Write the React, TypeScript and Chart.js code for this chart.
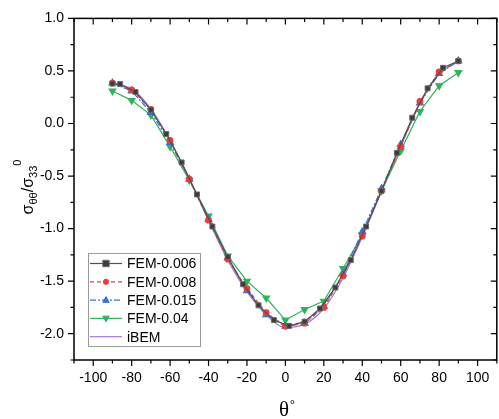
import React, { useEffect, useRef } from 'react';
import { Chart, registerables } from 'chart.js';
Chart.register(...registerables);

// ---- data ----
const thetaFEM006 = [-90, -86, -78, -70, -62, -54, -46, -38, -30, -22, -14, -6, 2, 10, 18, 26, 34, 42, 50, 58, 66, 74, 82, 90];
const fem006 = [0.38, 0.375, 0.30, 0.13, -0.10, -0.37, -0.675, -0.98, -1.27, -1.53, -1.73, -1.87, -1.925, -1.885, -1.76, -1.56, -1.30, -0.98, -0.64, -0.28, 0.055, 0.335, 0.53, 0.595];

const theta10 = [-90, -80, -70, -60, -50, -40, -30, -20, -10, 0, 10, 20, 30, 40, 50, 60, 70, 80, 90];
const fem008 = [0.385, 0.32, 0.135, -0.16, -0.53, -0.92, -1.29, -1.57, -1.80, -1.93, -1.90, -1.75, -1.45, -1.07, -0.64, -0.22, 0.21, 0.49, 0.595];
const fem015 = [0.385, 0.31, 0.105, -0.18, -0.53, -0.91, -1.28, -1.59, -1.82, -1.93, -1.90, -1.74, -1.43, -1.03, -0.62, -0.20, 0.195, 0.475, 0.595];
const fem04 = [0.31, 0.22, 0.08, -0.22, -0.54, -0.88, -1.26, -1.50, -1.66, -1.87, -1.77, -1.69, -1.38, -1.06, -0.64, -0.26, 0.115, 0.36, 0.485];
const ibem = [0.38, 0.33, 0.14, -0.16, -0.53, -0.92, -1.30, -1.60, -1.82, -1.94, -1.91, -1.76, -1.47, -1.08, -0.65, -0.22, 0.19, 0.47, 0.59];

const seriesNames = ['FEM-0.006', 'FEM-0.008', 'FEM-0.015', 'FEM-0.04', 'iBEM'];
const xTickValues = [-100, -80, -60, -40, -20, 0, 20, 40, 60, 80, 100];
const xMinorValues = [-110, -90, -70, -50, -30, -10, 10, 30, 50, 70, 90, 110];
const yTickValues = [-2.0, -1.5, -1.0, -0.5, 0.0, 0.5, 1.0];
const yMinorValues = [-2.25, -1.75, -1.25, -0.75, -0.25, 0.25, 0.75];

const COLORS = {
  grey: '#505050',
  red: '#ee3b3b',
  blue: '#3b6fd4',
  green: '#2eb35a',
  purple: '#a379d8',
};

const pts = (xs: number[], ys: number[]) => xs.map((x, i) => ({ x, y: ys[i] }));

function drawMarker(ctx: CanvasRenderingContext2D, style: string, x: number, y: number, r: number, fill: string, stroke: string) {
  ctx.save();
  ctx.fillStyle = fill;
  ctx.strokeStyle = stroke;
  ctx.lineWidth = 1;
  ctx.setLineDash([]);
  ctx.beginPath();
  if (style === 'rect') {
    ctx.rect(x - r, y - r, 2 * r, 2 * r);
  } else if (style === 'circle') {
    ctx.arc(x, y, r, 0, Math.PI * 2);
  } else if (style === 'tri') {
    ctx.moveTo(x, y - r * 1.1);
    ctx.lineTo(x + r, y + r * 0.7);
    ctx.lineTo(x - r, y + r * 0.7);
    ctx.closePath();
  } else if (style === 'tridown') {
    ctx.moveTo(x, y + r * 1.1);
    ctx.lineTo(x + r, y - r * 0.7);
    ctx.lineTo(x - r, y - r * 0.7);
    ctx.closePath();
  }
  ctx.fill();
  ctx.stroke();
  ctx.restore();
}

const framePlugin = {
  id: 'frameAndDecor',
  afterDraw(chart: any) {
    const { ctx, chartArea } = chart;
    const xs = chart.scales.x;
    const ys = chart.scales.y;
    const { left, right, top, bottom } = chartArea;
    ctx.save();
    ctx.strokeStyle = '#000';
    ctx.lineWidth = 1.5;
    ctx.setLineDash([]);
    ctx.strokeRect(left, top, right - left, bottom - top);
    ctx.lineWidth = 1.2;
    ctx.beginPath();
    for (const v of xTickValues) {
      const p = xs.getPixelForValue(v);
      ctx.moveTo(p, bottom); ctx.lineTo(p, bottom + 6);
      ctx.moveTo(p, top); ctx.lineTo(p, top + 6);
    }
    for (const v of xMinorValues) {
      const p = xs.getPixelForValue(v);
      ctx.moveTo(p, bottom); ctx.lineTo(p, bottom + 3.5);
      ctx.moveTo(p, top); ctx.lineTo(p, top + 3.5);
    }
    for (const v of yTickValues) {
      const p = ys.getPixelForValue(v);
      ctx.moveTo(left, p); ctx.lineTo(left - 6, p);
      ctx.moveTo(right, p); ctx.lineTo(right - 6, p);
    }
    for (const v of yMinorValues) {
      const p = ys.getPixelForValue(v);
      ctx.moveTo(left, p); ctx.lineTo(left - 3.5, p);
      ctx.moveTo(right, p); ctx.lineTo(right - 3.5, p);
    }
    ctx.stroke();

    // x axis title
    ctx.fillStyle = '#000';
    ctx.textBaseline = 'alphabetic';
    ctx.textAlign = 'center';
    ctx.font = '21px "Liberation Serif", "Times New Roman", serif';
    ctx.fillText('θ', 284, 416);
    ctx.textAlign = 'left';
    ctx.font = '12px "Liberation Serif", "Times New Roman", serif';
    ctx.fillText('°', 290, 408);

    // y axis title (rotated)
    ctx.save();
    ctx.translate(33, 187);
    ctx.rotate(-Math.PI / 2);
    const runs = [
      { t: 'σ', size: 16, dy: 0 },
      { t: 'θθ', size: 11, dy: 4 },
      { t: '/σ', size: 16, dy: 0 },
      { t: '33', size: 11, dy: 4 },
      { t: '0', size: 11, dy: -12 },
    ];
    let total = 0;
    const widths = runs.map((r) => {
      ctx.font = `${r.size}px "Liberation Sans", Arial, sans-serif`;
      const w = ctx.measureText(r.t).width;
      total += w;
      return w;
    });
    let cx = -total / 2;
    runs.forEach((r, i) => {
      ctx.font = `${r.size}px "Liberation Sans", Arial, sans-serif`;
      ctx.fillText(r.t, cx, r.dy);
      cx += widths[i];
    });
    ctx.restore();

    // legend
    const lx = 88, ly = 253, lw = 112, lh = 93;
    ctx.fillStyle = '#fff';
    ctx.fillRect(lx, ly, lw, lh);
    ctx.strokeStyle = '#9a9a9a';
    ctx.lineWidth = 1;
    ctx.strokeRect(lx + 0.5, ly + 0.5, lw, lh);
    const rows = [
      { c: COLORS.grey, dash: [] as number[], m: 'rect', fill: '#3c3c3c', stroke: '#6a6a6a', r: 3.2 },
      { c: COLORS.red, dash: [4, 3], m: 'circle', fill: COLORS.red, stroke: COLORS.red, r: 2.6 },
      { c: COLORS.blue, dash: [6, 2, 2, 2], m: 'tri', fill: COLORS.blue, stroke: COLORS.blue, r: 3.2 },
      { c: COLORS.green, dash: [] as number[], m: 'tridown', fill: COLORS.green, stroke: COLORS.green, r: 3.2 },
      { c: COLORS.purple, dash: [] as number[], m: '', fill: '', stroke: '', r: 0 },
    ];
    rows.forEach((row, i) => {
      const y = 263.5 + i * 18.3;
      ctx.save();
      ctx.strokeStyle = row.c;
      ctx.lineWidth = 1.2;
      ctx.setLineDash(row.dash);
      ctx.beginPath();
      ctx.moveTo(90, y);
      ctx.lineTo(122, y);
      ctx.stroke();
      ctx.restore();
      if (row.m) drawMarker(ctx, row.m, 106, y, row.r, row.fill, row.stroke);
      ctx.fillStyle = '#000';
      ctx.textAlign = 'left';
      ctx.textBaseline = 'middle';
      ctx.font = '14px "Liberation Sans", Arial, sans-serif';
      ctx.fillText(seriesNames[i], 127, y + 1);
    });
    ctx.restore();
  },
};

export default function App() {
  const ref = useRef<HTMLCanvasElement>(null);
  useEffect(() => {
    document.body.style.margin = '0';
    document.body.style.overflow = 'hidden';
    const canvas = ref.current!;
    const tickFont = { family: '"Liberation Sans", Arial, sans-serif', size: 14 };
    const chart = new Chart(canvas, {
      type: 'line',
      data: {
        datasets: [
          {
            label: seriesNames[0],
            data: pts(thetaFEM006, fem006),
            borderColor: COLORS.grey,
            borderWidth: 1.2,
            pointStyle: 'rect',
            pointRadius: 3.5,
            pointBackgroundColor: '#3c3c3c',
            pointBorderColor: '#6a6a6a',
            pointBorderWidth: 1,
            fill: false,
          },
          {
            label: seriesNames[1],
            data: pts(theta10, fem008),
            borderColor: COLORS.red,
            borderWidth: 1.2,
            borderDash: [4, 3],
            pointStyle: 'circle',
            pointRadius: 2.8,
            pointBackgroundColor: COLORS.red,
            pointBorderColor: COLORS.red,
            fill: false,
          },
          {
            label: seriesNames[2],
            data: pts(theta10, fem015),
            borderColor: COLORS.blue,
            borderWidth: 1.2,
            borderDash: [6, 2, 2, 2],
            pointStyle: 'triangle',
            pointRadius: 3.8,
            pointBackgroundColor: COLORS.blue,
            pointBorderColor: COLORS.blue,
            fill: false,
          },
          {
            label: seriesNames[3],
            data: pts(theta10, fem04),
            borderColor: COLORS.green,
            borderWidth: 1.2,
            pointStyle: 'triangle',
            pointRotation: 180,
            pointRadius: 3.8,
            pointBackgroundColor: COLORS.green,
            pointBorderColor: COLORS.green,
            fill: false,
          },
          {
            label: seriesNames[4],
            data: pts(theta10, ibem),
            borderColor: COLORS.purple,
            borderWidth: 1.2,
            pointRadius: 0,
            cubicInterpolationMode: 'monotone',
            fill: false,
          },
        ],
      } as any,
      options: {
        responsive: false,
        animation: false,
        devicePixelRatio: 1,
        layout: { padding: { top: 16, right: 1, left: 0, bottom: 0 } },
        plugins: { legend: { display: false }, tooltip: { enabled: false } },
        scales: {
          x: {
            type: 'linear',
            min: -110,
            max: 110,
            grid: { display: false, drawTicks: false },
            border: { display: false },
            ticks: { font: tickFont, color: '#000', padding: 10, maxRotation: 0, autoSkip: false },
            afterBuildTicks: (s: any) => { s.ticks = xTickValues.map((v) => ({ value: v })); },
            afterFit: (s: any) => { s.height = 59; },
          },
          y: {
            type: 'linear',
            min: -2.25,
            max: 1.0,
            grid: { display: false, drawTicks: false },
            border: { display: false },
            ticks: {
              font: tickFont,
              color: '#000',
              padding: 10,
              autoSkip: false,
              callback: (v: any) => Number(v).toFixed(1),
            },
            afterBuildTicks: (s: any) => { s.ticks = yTickValues.map((v) => ({ value: v })); },
            afterFit: (s: any) => { s.width = 74; },
          },
        },
      } as any,
      plugins: [framePlugin],
    });
    return () => chart.destroy();
  }, []);
  return (
    <div style={{ width: 499, height: 419, overflow: 'hidden', position: 'relative' }}>
      <canvas ref={ref} width={502} height={419} style={{ display: 'block', width: 502, height: 419 }} />
    </div>
  );
}
